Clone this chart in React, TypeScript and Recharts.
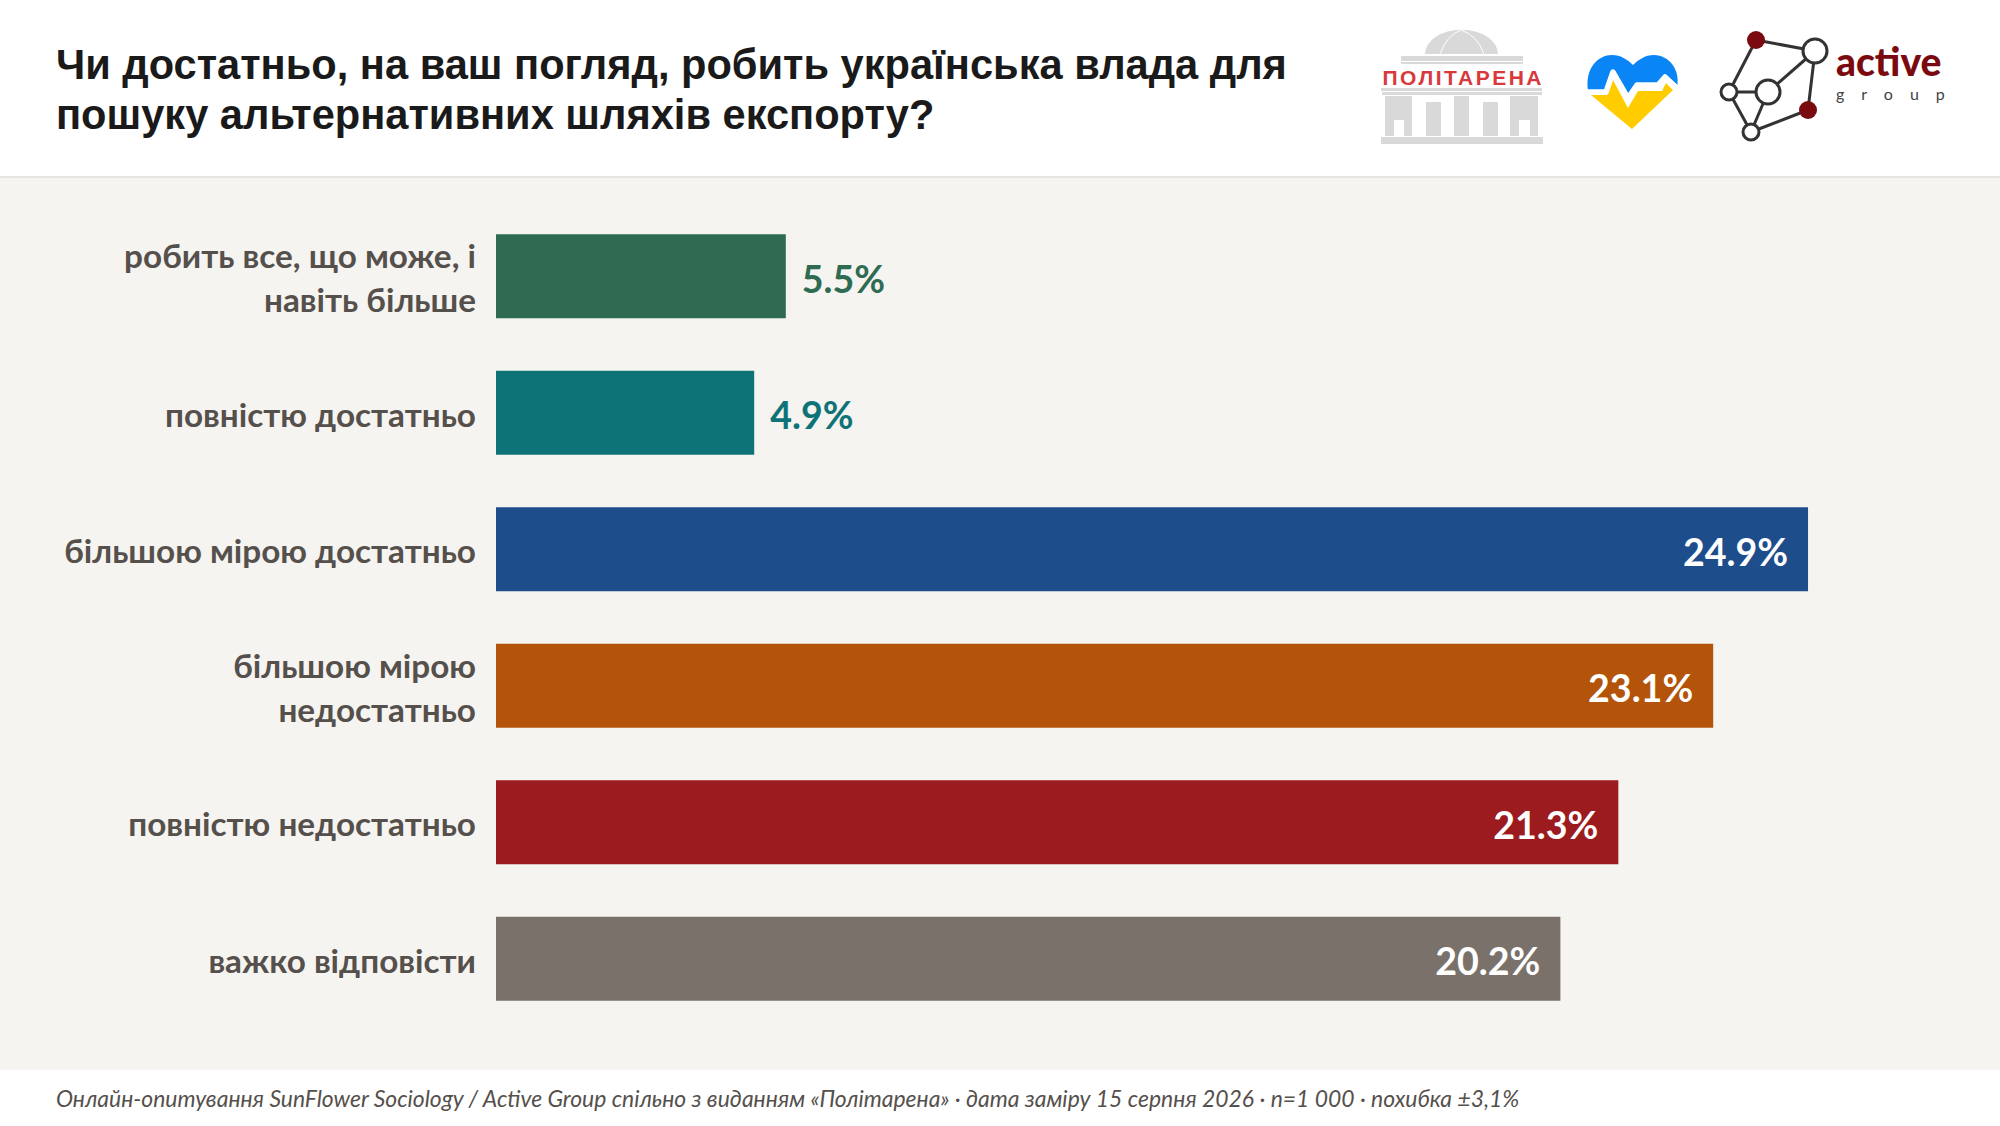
import { BarChart, Bar, Cell, XAxis, YAxis, LabelList } from 'recharts';

const categories = [
  'робить все, що може, і\nнавіть більше',
  'повністю достатньо',
  'більшою мірою достатньо',
  'більшою мірою\nнедостатньо',
  'повністю недостатньо',
  'важко відповісти',
];
const values = [5.5, 4.9, 24.9, 23.1, 21.3, 20.2];
const barColors = ['#2F6B52', '#0E7377', '#1E4D8B', '#B3540A', '#9B1B1E', '#7A716B'];

const titleLines = [
  'Чи достатньо, на ваш погляд, робить українська влада для',
  'пошуку альтернативних шляхів експорту?',
];
const footnote =
  'Онлайн-опитування SunFlower Sociology / Active Group спільно з виданням «Політарена» · дата заміру 15 серпня 2026 · n=1 000 · похибка ±3,1%';

const data = categories.map((name, i) => ({ name, value: values[i] }));

const labelFont = 'Lato, "Noto Sans", sans-serif';

function CategoryTick({ x, y, payload }: any) {
  const lines = String(payload.value).split('\n');
  const top = y - ((lines.length - 1) * 44) / 2 + 14;
  return (
    <text textAnchor="end" fontFamily={labelFont} fontWeight={700} fontSize={33.3} fill="#55504C">
      {lines.map((line: string, i: number) => (
        <tspan key={i} x={x - 14} y={top + i * 44}>{line}</tspan>
      ))}
    </text>
  );
}

function ValueLabel({ x, y, width, height, value, index }: any) {
  const inside = value > 10;
  return (
    <text
      x={inside ? x + width - 20 : x + width + 16}
      y={y + height / 2 + 16.5}
      textAnchor={inside ? 'end' : 'start'}
      fontFamily={labelFont}
      fontWeight={700}
      fontSize={37.6}
      fill={inside ? '#FFFFFF' : barColors[index]}
    >
      {value.toFixed(1)}%
    </text>
  );
}

function BuildingLogo() {
  const grey = '#D9D9D9';
  return (
    <svg width={175} height={125} style={{ position: 'absolute', left: 1375, top: 25 }}>
      <path d="M50 29 A36 24 0 0 1 123 29 Z" fill={grey} />
      <path d="M65 29 Q72 10 86 5 Q102 10 109 29" fill="none" stroke="#fff" strokeWidth={1} />
      <rect x={26} y={31} width={122} height={5} fill={grey} />
      <rect x={26} y={37} width={122} height={2} fill={grey} />
      <text x={87} y={60} textAnchor="middle" fontFamily="Liberation Sans" fontWeight={700} fontSize={21} fill="#D8393C" textLength={159}>ПОЛІТАРЕНА</text>
      <rect x={6} y={63} width={161} height={3} fill={grey} />
      <rect x={7} y={67} width={160} height={3} fill={grey} />
      <rect x={10} y={71} width={27} height={40} fill={grey} />
      <rect x={79} y={71} width={15} height={40} fill={grey} />
      <rect x={135} y={71} width={28} height={40} fill={grey} />
      <rect x={51} y={77} width={15} height={34} fill={grey} />
      <rect x={108} y={77} width={15} height={34} fill={grey} />
      <rect x={19} y={95} width={10} height={16} fill="#fff" />
      <rect x={144} y={95} width={11} height={16} fill="#fff" />
      <rect x={6} y={112} width={162} height={7} fill={grey} />
    </svg>
  );
}

function HeartLogo() {
  return (
    <svg width={105} height={85} style={{ position: 'absolute', left: 1580, top: 50 }}>
      <path d="M11 45 L27 45 L33 30 L48 58 L58 41 L82 41 L86 33 L93 40 L52 79 Z" fill="#FFCC00" />
      <path d="M8 40 C5 18 18 5 32 5 C41 5 48 10 53 15 C58 10 65 5 74 5 C89 5 101 20 97 38 L85 27 L78 35 L57 35 L48 48 L33 22 L26 42 L8 42 Z" fill="#0A85F5" />
      <path d="M8 42 L26 42 L33 22 L48 48 L57 35 L78 35 L85 27 L98 39" fill="none" stroke="#fff" strokeWidth={5.5} strokeLinejoin="round" />
    </svg>
  );
}

function NetworkLogo() {
  const edges = [
    [1756, 40, 1815, 51], [1756, 40, 1729, 92], [1729, 92, 1768, 92], [1815, 51, 1768, 92],
    [1815, 51, 1808, 110], [1729, 92, 1751, 132], [1768, 92, 1751, 132], [1808, 110, 1751, 132],
  ];
  const stroke = '#333333';
  return (
    <svg width={300} height={140} viewBox="1700 20 300 140" style={{ position: 'absolute', left: 1700, top: 20 }}>
      {edges.map((e, i) => <line key={i} x1={e[0]} y1={e[1]} x2={e[2]} y2={e[3]} stroke={stroke} strokeWidth={3} />)}
      <circle cx={1756} cy={40} r={9} fill="#7B0A10" />
      <circle cx={1808} cy={110} r={9} fill="#7B0A10" />
      <circle cx={1815} cy={51} r={12} fill="#fff" stroke={stroke} strokeWidth={3} />
      <circle cx={1768} cy={92} r={12} fill="#fff" stroke={stroke} strokeWidth={3} />
      <circle cx={1729} cy={92} r={8} fill="#fff" stroke={stroke} strokeWidth={3} />
      <circle cx={1751} cy={132} r={8} fill="#fff" stroke={stroke} strokeWidth={3} />
      <text x={1836} y={76} fontFamily={labelFont} fontWeight={900} fontSize={39} fill="#7B0A10">active</text>
      <text x={1836} y={100} fontFamily={labelFont} fontSize={16} fill="#444" letterSpacing={17}>group</text>
    </svg>
  );
}

export default function App() {
  document.body.style.margin = '0';
  return (
    <div style={{ position: 'relative', width: 2000, height: 1126, background: '#fff', overflow: 'hidden' }}>
      <div style={{ position: 'absolute', left: 56, top: 40, fontFamily: 'Liberation Sans', fontWeight: 700, fontSize: 41.6, lineHeight: '50px', color: '#1A1A1A', whiteSpace: 'nowrap' }}>
        {titleLines.map((t) => <div key={t}>{t}</div>)}
      </div>
      <BuildingLogo />
      <HeartLogo />
      <NetworkLogo />
      <div style={{ position: 'absolute', left: 0, top: 176, width: 2000, height: 894, background: '#F5F4F0', borderTop: '2px solid #E6E5E1', boxSizing: 'border-box' }} />
      <div style={{ position: 'absolute', left: 0, top: 207.5 }}>
        <BarChart
          width={2000}
          height={819}
          data={data}
          layout="vertical"
          margin={{ top: 0, right: 134, bottom: 0, left: 0 }}
          barCategoryGap={26.25}
        >
          <XAxis type="number" domain={[0, 26]} hide />
          <YAxis
            type="category"
            dataKey="name"
            width={496}
            axisLine={false}
            tickLine={false}
            tickMargin={0}
            tick={<CategoryTick />}
            interval={0}
          />
          <Bar dataKey="value" isAnimationActive={false}>
            {data.map((d, i) => <Cell key={d.name} fill={barColors[i]} />)}
            <LabelList dataKey="value" content={<ValueLabel />} />
          </Bar>
        </BarChart>
      </div>
      <div style={{ position: 'absolute', left: 56, top: 1084, fontFamily: labelFont, fontStyle: 'italic', fontSize: 22.9, color: '#55504C', whiteSpace: 'nowrap' }}>
        {footnote}
      </div>
    </div>
  );
}
